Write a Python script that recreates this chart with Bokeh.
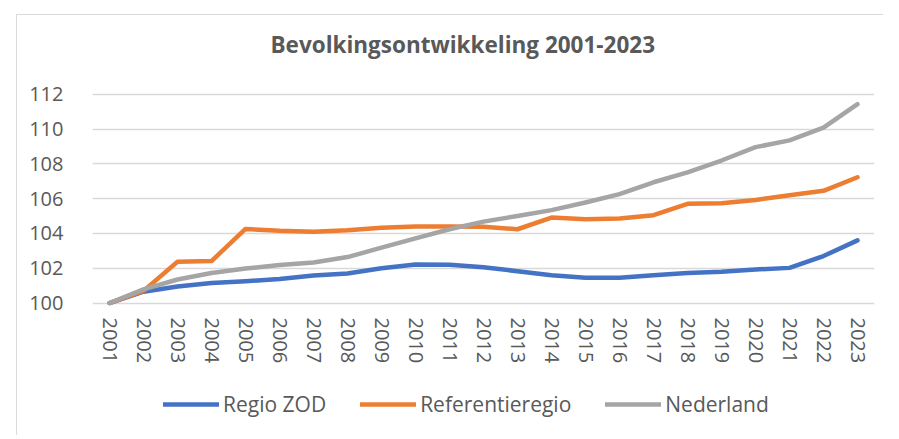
from bokeh.plotting import figure
from bokeh.layouts import column
from bokeh.models import FixedTicker, Range1d, FactorRange, Legend, LegendItem, Title
from bokeh.embed import file_html
from bokeh.resources import INLINE

years = [str(y) for y in range(2001, 2024)]
regio_zod = [100.0, 100.65, 100.95, 101.15, 101.25, 101.38, 101.58, 101.7, 102.0, 102.22, 102.2,
             102.05, 101.83, 101.6, 101.45, 101.45, 101.6, 101.73, 101.8, 101.93, 102.02, 102.7, 103.6]
referentieregio = [100.0, 100.7, 102.37, 102.41, 104.26, 104.15, 104.1, 104.18, 104.33, 104.4, 104.4,
                   104.38, 104.24, 104.91, 104.82, 104.86, 105.05, 105.7, 105.74, 105.92, 106.2, 106.45, 107.23]
nederland = [100.0, 100.78, 101.35, 101.73, 101.98, 102.18, 102.33, 102.64, 103.18, 103.72, 104.24,
             104.68, 105.0, 105.34, 105.78, 106.26, 106.94, 107.51, 108.19, 108.96, 109.35, 110.08, 111.43]
y_ticks = [100, 102, 104, 106, 108, 110, 112]
series_names = ["Regio ZOD", "Referentieregio", "Nederland"]
series_colors = ["#4472C4", "#ED7D31", "#A5A5A5"]
chart_title = "Bevolkingsontwikkeling 2001-2023"

TXT = "#595959"
FONT = "Open Sans"
BORDER = "1px solid #D9D9D9"
series = [regio_zod, referentieregio, nederland]

p = figure(frame_width=781, frame_height=213, output_backend="svg", toolbar_location=None,
           x_range=FactorRange(*years, range_padding=0), y_range=Range1d(99.8, 112.1),
           min_border_left=75, min_border_right=10, min_border_top=77, min_border_bottom=60)
p.margin = (14, 0, 0, 16)
p.styles = {"border-left": BORDER, "border-top": BORDER}
p.outline_line_color = None
p.background_fill_color = "white"
p.border_fill_color = "white"

spacer = Title(text=" ", text_font_size="10px", standoff=16)
p.add_layout(spacer, "above")
t = Title(text=chart_title, text_font=FONT, text_font_style="bold", text_font_size="22.5px",
          text_color=TXT, align="left", offset=178, standoff=8)
p.add_layout(t, "above")

for vals, col in zip(series, series_colors):
    p.line(years, vals, line_color=col, line_width=4.5, line_join="round", line_cap="round")

p.xgrid.grid_line_color = None
p.ygrid.grid_line_color = "#D9D9D9"
p.ygrid.grid_line_width = 1.5
p.yaxis.ticker = FixedTicker(ticks=y_ticks)

for ax in (p.xaxis[0], p.yaxis[0]):
    ax.axis_line_color = None
    ax.major_tick_line_color = None
    ax.minor_tick_line_color = None
    ax.major_label_text_font = FONT
    ax.major_label_text_font_size = "20px"
    ax.major_label_text_color = TXT
p.xaxis.major_label_orientation = "vertical"
p.xaxis.major_label_standoff = 5
p.yaxis.major_label_standoff = 23

# legend strip below the chart (own frame, so the legend is not clipped);
# its series renderers lie outside this strip's y range and stay invisible
q = figure(frame_width=781, frame_height=70, output_backend="svg", toolbar_location=None,
           x_range=FactorRange(*years, range_padding=0), y_range=Range1d(0, 1),
           min_border_left=75, min_border_right=10, min_border_top=0, min_border_bottom=0)
q.margin = (0, 0, 0, 16)
q.styles = {"border-left": BORDER}
q.outline_line_color = None
q.axis.visible = False
q.grid.visible = False
q.background_fill_color = "white"
q.border_fill_color = "white"
legend_renderers = [q.line(years, vals, line_color=col, line_width=4.5, line_cap="round")
                    for vals, col in zip(series, series_colors)]

legend = Legend(items=[LegendItem(label=n, renderers=[r]) for n, r in zip(series_names, legend_renderers)],
                orientation="horizontal", location=(71, 17))
legend.label_text_font = FONT
legend.label_text_font_size = "21px"
legend.label_text_color = TXT
legend.glyph_width = 56
legend.glyph_height = 20
legend.label_height = 20
legend.label_standoff = 4
legend.spacing = 34
legend.padding = 0
legend.margin = 0
legend.border_line_color = None
legend.background_fill_alpha = 0
q.add_layout(legend, "center")

layout = column(p, q, spacing=0)
open("out.html", "w").write(file_html(layout, INLINE))
